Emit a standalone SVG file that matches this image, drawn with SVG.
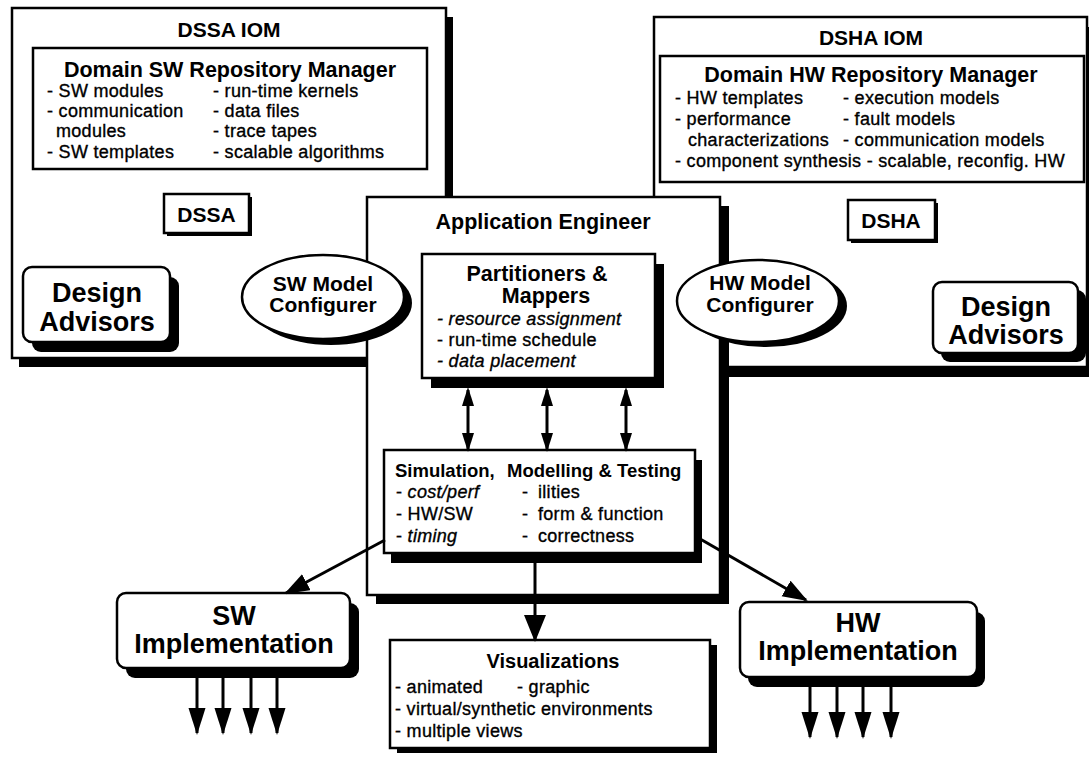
<svg xmlns="http://www.w3.org/2000/svg" width="1089" height="757" viewBox="0 0 1089 757">
  <style>
    .box { fill: #fff; stroke: #000; stroke-width: 2.5; }
    .sh { fill: #000; }
    .t { font-family: "Liberation Sans", Arial, Helvetica, sans-serif; fill: #000; }
    .iom { font-size: 21px; font-weight: bold; text-anchor: middle; }
    .hd { font-size: 21.5px; font-weight: bold; text-anchor: middle; }
    .it { font-size: 18px; letter-spacing: 0.3px; stroke: #000; stroke-width: 0.35px; }
    .em { font-style: italic; }
    .big { font-size: 27px; font-weight: bold; text-anchor: middle; }
    .mc { font-size: 21px; font-weight: bold; text-anchor: middle; }
    .lbl { font-size: 21px; font-weight: bold; text-anchor: middle; }
    .con { fill: none; stroke: #000; stroke-width: 3; }
  </style>
  <defs>
    <marker id="headS" markerUnits="userSpaceOnUse" markerWidth="20" markerHeight="14" refX="16" refY="6" orient="auto-start-reverse">
      <path d="M0,0 L19,6 L0,12 Z" fill="#000"/>
    </marker>
    <marker id="headD" markerUnits="userSpaceOnUse" markerWidth="28" markerHeight="20" refX="23" refY="9" orient="auto">
      <path d="M0,0 L25,9 L0,18 Z" fill="#000"/>
    </marker>
    <marker id="headV" markerUnits="userSpaceOnUse" markerWidth="30" markerHeight="24" refX="25" refY="11" orient="auto">
      <path d="M0,0 L27,11 L0,22 Z" fill="#000"/>
    </marker>
    <marker id="headO" markerUnits="userSpaceOnUse" markerWidth="30" markerHeight="20" refX="25" refY="8.5" orient="auto">
      <path d="M0,0 L27,8.5 L0,17 Z" fill="#000"/>
    </marker>
  </defs>

  <rect x="0" y="0" width="1089" height="757" fill="#fff"/>

  <!-- software-side domain environment -->
  <g id="dssa-iom">
    <rect class="sh" x="19" y="17" width="434" height="350"/>
    <rect class="box" x="12" y="8" width="434" height="350"/>
    <text class="t iom" x="229" y="37">DSSA IOM</text>
  </g>
  <g id="sw-repository">
    <rect class="box" x="33" y="48" width="394" height="121"/>
    <text class="t hd" x="230" y="77">Domain SW Repository Manager</text>
    <text class="t it" x="47" y="97">- SW modules</text>
    <text class="t it" x="47" y="117">- communication</text>
    <text class="t it" x="56" y="137">modules</text>
    <text class="t it" x="47" y="158">- SW templates</text>
    <text class="t it" x="213" y="97">- run-time kernels</text>
    <text class="t it" x="213" y="117">- data files</text>
    <text class="t it" x="213" y="137">- trace tapes</text>
    <text class="t it" x="213" y="158">- scalable algorithms</text>
  </g>
  <g id="dssa">
    <rect class="sh" x="167" y="197" width="85" height="39"/>
    <rect class="box" x="164" y="194" width="85" height="39"/>
    <text class="t lbl" x="206.5" y="222">DSSA</text>
  </g>
  <g id="design-advisors-sw">
    <rect class="sh" x="32" y="277" width="147" height="75" rx="9"/>
    <rect class="box" x="23" y="267" width="147" height="75" rx="9"/>
    <text class="t big" x="97" y="302">Design</text>
    <text class="t big" x="97" y="331">Advisors</text>
  </g>

  <!-- hardware-side domain environment -->
  <g id="dsha-iom">
    <rect class="sh" x="661" y="27" width="433" height="350"/>
    <rect class="box" x="654" y="17" width="433" height="350"/>
    <text class="t iom" x="871" y="45">DSHA IOM</text>
  </g>
  <g id="hw-repository">
    <rect class="box" x="660" y="56" width="424" height="126"/>
    <text class="t hd" x="871" y="82">Domain HW Repository Manager</text>
    <text class="t it" x="675" y="104">- HW templates</text>
    <text class="t it" x="675" y="125">- performance</text>
    <text class="t it" x="688" y="146">characterizations</text>
    <text class="t it" x="675" y="167">- component synthesis - scalable, reconfig. HW</text>
    <text class="t it" x="843" y="104">- execution models</text>
    <text class="t it" x="843" y="125">- fault models</text>
    <text class="t it" x="843" y="146">- communication models</text>
  </g>
  <g id="dsha">
    <rect class="sh" x="851" y="203" width="87" height="40"/>
    <rect class="box" x="848" y="200" width="87" height="40"/>
    <text class="t lbl" x="891" y="228">DSHA</text>
  </g>
  <g id="design-advisors-hw">
    <rect class="sh" x="941" y="290" width="145" height="72" rx="9"/>
    <rect class="box" x="933" y="282" width="145" height="71" rx="9"/>
    <text class="t big" x="1006" y="316">Design</text>
    <text class="t big" x="1006" y="344">Advisors</text>
  </g>

  <!-- application engineer workspace -->
  <g id="application-engineer">
    <rect class="sh" x="376" y="206" width="353" height="398"/>
    <rect class="box" x="367" y="197" width="353" height="398"/>
    <text class="t hd" x="543" y="229">Application Engineer</text>
  </g>
  <g id="sw-model-configurer">
    <ellipse class="sh" cx="331" cy="303" rx="81" ry="42"/>
    <ellipse class="box" cx="323" cy="297" rx="81" ry="42"/>
    <text class="t mc" x="323" y="291">SW Model</text>
    <text class="t mc" x="323" y="312">Configurer</text>
  </g>
  <g id="hw-model-configurer">
    <ellipse class="sh" cx="766" cy="306" rx="81" ry="41"/>
    <ellipse class="box" cx="758" cy="301" rx="81" ry="41"/>
    <text class="t mc" x="760" y="290">HW Model</text>
    <text class="t mc" x="760" y="312">Configurer</text>
  </g>
  <g id="partitioners-mappers">
    <rect class="sh" x="431" y="264" width="233" height="124"/>
    <rect class="box" x="422" y="254" width="233" height="124"/>
    <text class="t hd" x="537" y="281">Partitioners &amp;</text>
    <text class="t hd" x="546" y="303">Mappers</text>
    <text class="t it em" x="437" y="325">- resource assignment</text>
    <text class="t it" x="437" y="346">- run-time schedule</text>
    <text class="t it em" x="437" y="367">- data placement</text>
  </g>
  <g id="simulation-modelling-testing">
    <rect class="sh" x="391" y="460" width="311" height="103"/>
    <rect class="box" x="384" y="450" width="311" height="103"/>
    <text class="t" x="395" y="477" font-size="18.5" font-weight="bold">Simulation,</text>
    <text class="t" x="507" y="477" font-size="18.5" font-weight="bold">Modelling &amp; Testing</text>
    <text class="t it" x="396" y="498">- <tspan class="em">cost/perf</tspan></text>
    <text class="t it" x="396" y="520">- HW/SW</text>
    <text class="t it" x="396" y="542">- <tspan class="em">timing</tspan></text>
    <text class="t it" x="522" y="498">-</text>
    <text class="t it" x="522" y="520">-</text>
    <text class="t it" x="522" y="542">-</text>
    <text class="t it" x="538" y="498">ilities</text>
    <text class="t it" x="538" y="520">form &amp; function</text>
    <text class="t it" x="538" y="542">correctness</text>
  </g>

  <!-- outputs -->
  <g id="sw-implementation">
    <rect class="sh" x="126" y="603" width="233" height="75" rx="9"/>
    <rect class="box" x="117" y="593" width="233" height="75" rx="9"/>
    <text class="t big" x="234" y="625">SW</text>
    <text class="t big" x="234" y="653">Implementation</text>
  </g>
  <g id="hw-implementation">
    <rect class="sh" x="748" y="612" width="237" height="75" rx="9"/>
    <rect class="box" x="740" y="602" width="237" height="75" rx="9"/>
    <text class="t big" x="858" y="632">HW</text>
    <text class="t big" x="858" y="660">Implementation</text>
  </g>
  <g id="visualizations">
    <rect class="sh" x="397" y="645" width="320" height="108"/>
    <rect class="box" x="390" y="640" width="320" height="108"/>
    <text class="t" x="553" y="668" font-size="20" font-weight="bold" text-anchor="middle">Visualizations</text>
    <text class="t it" x="395" y="693">- animated</text>
    <text class="t it" x="517" y="693">- graphic</text>
    <text class="t it" x="395" y="715">- virtual/synthetic environments</text>
    <text class="t it" x="395" y="737">- multiple views</text>
  </g>

  <!-- connectors -->
  <g id="connectors">
    <line class="con" x1="468" y1="390" x2="468" y2="449" marker-start="url(#headS)" marker-end="url(#headS)"/>
    <line class="con" x1="547" y1="390" x2="547" y2="449" marker-start="url(#headS)" marker-end="url(#headS)"/>
    <line class="con" x1="626" y1="390" x2="626" y2="449" marker-start="url(#headS)" marker-end="url(#headS)"/>
    <line class="con" x1="385" y1="540" x2="286" y2="593" marker-end="url(#headD)"/>
    <line class="con" x1="695" y1="536" x2="806" y2="600" marker-end="url(#headD)"/>
    <line class="con" x1="535" y1="553" x2="535" y2="640" marker-end="url(#headV)"/>
    <line class="con" x1="197" y1="678" x2="197" y2="733" marker-end="url(#headO)"/>
    <line class="con" x1="223" y1="678" x2="223" y2="733" marker-end="url(#headO)"/>
    <line class="con" x1="251" y1="678" x2="251" y2="733" marker-end="url(#headO)"/>
    <line class="con" x1="277" y1="678" x2="277" y2="733" marker-end="url(#headO)"/>
    <line class="con" x1="810" y1="687" x2="810" y2="737" marker-end="url(#headO)"/>
    <line class="con" x1="837" y1="687" x2="837" y2="737" marker-end="url(#headO)"/>
    <line class="con" x1="863" y1="687" x2="863" y2="737" marker-end="url(#headO)"/>
    <line class="con" x1="891" y1="687" x2="891" y2="737" marker-end="url(#headO)"/>
  </g>
</svg>
